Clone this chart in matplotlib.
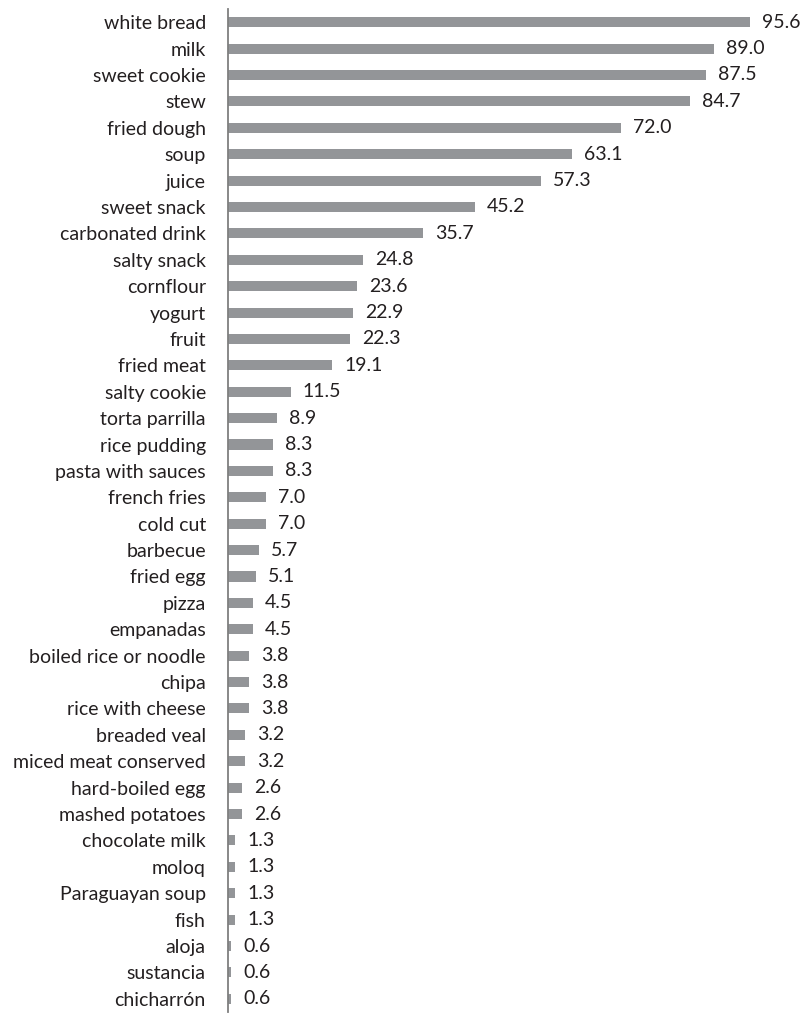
import matplotlib
matplotlib.use("Agg")
import matplotlib.pyplot as plt

foods = [
    "white bread", "milk", "sweet cookie", "stew", "fried dough", "soup", "juice",
    "sweet snack", "carbonated drink", "salty snack", "cornflour", "yogurt", "fruit",
    "fried meat", "salty cookie", "torta parrilla", "rice pudding", "pasta with sauces",
    "french fries", "cold cut", "barbecue", "fried egg", "pizza", "empanadas",
    "boiled rice or noodle", "chipa", "rice with cheese", "breaded veal",
    "miced meat conserved", "hard-boiled egg", "mashed potatoes", "chocolate milk",
    "moloq", "Paraguayan soup", "fish", "aloja", "sustancia", "chicharrón",
]
values = [
    95.6, 89.0, 87.5, 84.7, 72.0, 63.1, 57.3, 45.2, 35.7, 24.8, 23.6, 22.9, 22.3,
    19.1, 11.5, 8.9, 8.3, 8.3, 7.0, 7.0, 5.7, 5.1, 4.5, 4.5, 3.8, 3.8, 3.8, 3.2,
    3.2, 2.6, 2.6, 1.3, 1.3, 1.3, 1.3, 0.6, 0.6, 0.6,
]

plt.rcParams["font.family"] = ["Lato", "DejaVu Sans"]

W, H = 801, 1014
fig = plt.figure(figsize=(W / 100, H / 100), dpi=100)
ax = fig.add_axes([228 / W, 1 - 1012 / H, (W - 228) / W, 1003 / H])

pos = list(range(len(foods)))
ax.barh(pos, values, height=0.38, color="#939598", left=0)
for p, v in zip(pos, values):
    ax.text(v + 2.2, p, f"{v:.1f}", va="center", ha="left", fontsize=14,
            color="#231f20")

ax.set_ylim(len(foods) - 0.5, -0.5)
ax.set_xlim(0, 105)
ax.set_yticks(pos)
ax.set_yticklabels(foods, fontsize=14, color="#231f20")
ax.tick_params(axis="y", length=0, pad=16)
ax.set_xticks([])
for s in ["top", "right", "bottom"]:
    ax.spines[s].set_visible(False)
ax.spines["left"].set_color("#7f7f7f")
ax.spines["left"].set_linewidth(1.3)
ax.patch.set_visible(False)

fig.savefig("out.png", dpi=100)
